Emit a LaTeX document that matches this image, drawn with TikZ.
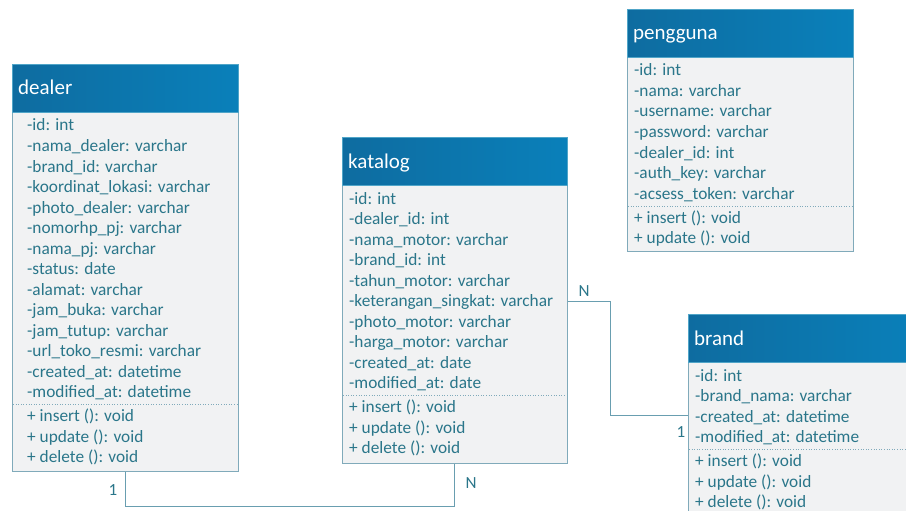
\documentclass[tikz,border=0pt]{standalone}
\usepackage{fontspec}
\setmainfont{Carlito}
\usetikzlibrary{calc}

\definecolor{hdrL}{RGB}{14,108,160}
\definecolor{hdrR}{RGB}{10,128,186}
\definecolor{hdrEdge}{RGB}{80,165,200}
\definecolor{bodyFill}{RGB}{241,242,243}
\definecolor{bodyEdge}{RGB}{128,170,186}
\definecolor{attrText}{RGB}{42,118,138}
\definecolor{linkLine}{RGB}{105,158,176}

\tikzset{
  classhead/.style={draw=hdrEdge, line width=0.8pt, left color=hdrL, right color=hdrR,
    anchor=north west, inner sep=0pt, minimum height=48pt},
  headtext/.style={text=white, font=\fontsize{21}{25}\selectfont, anchor=base west, inner sep=0pt},
  classbody/.style={draw=bodyEdge, fill=bodyFill, line width=0.8pt, anchor=north west, inner sep=0pt},
  rowtext/.style={text=attrText, font=\fontsize{17.3}{20}\selectfont, anchor=base west, inner sep=0pt},
  sepline/.style={draw=bodyEdge, dotted, line width=0.6pt},
  link/.style={draw=linkLine, line width=1pt},
  mult/.style={text=attrText, font=\fontsize{17}{20}\selectfont, inner sep=0pt},
}

% #1 name, #2 left x, #3 top y, #4 width, #5 title, #6 text indent,
% #7 attributes, #8 operations, #9 bottom y
\newcommand\umlclass[9]{%
  \pgfmathsetmacro\bodyh{#9-(#3+48)}%
  \node[classbody, minimum width=#4pt, minimum height=\bodyh pt] (#1-body) at ({#2},{#3+48}) {};
  \node[classhead, minimum width=#4pt] (#1) at ({#2},{#3}) {};
  \node[headtext] (#1-title) at ({#2+6},{#3+31}) {#5};
  \foreach \t [count=\i] in {#7} {
    \node[rowtext] (#1-a\i) at ({#2+#6},{#3+61.5+(\i-1)*20.5+5.5}) {\t};
    \xdef\lastattr{\i}
  }
  \pgfmathsetmacro\sepy{#3+61.5+(\lastattr-1)*20.5+12.5}%
  \draw[sepline] ({#2+1},{\sepy}) -- ({#2+#4-1},{\sepy});
  \foreach \t [count=\j] in {#8} {
    \node[rowtext] (#1-m\j) at ({#2+#6},{\sepy+11.5+(\j-1)*20.5+5.5}) {\t};
  }
}

\begin{document}
\begin{tikzpicture}[x=1pt,y=-1pt]
\useasboundingbox (0,0) rectangle (906,511);
\fill[white] (0,0) rectangle (906,511);

\umlclass{dealer}{12}{64}{226}{dealer}{15}
  {-id: int, -nama\_dealer: varchar, -brand\_id: varchar, -koordinat\_lokasi: varchar,
   -photo\_dealer: varchar, -nomorhp\_pj: varchar, -nama\_pj: varchar, -status: date,
   -alamat: varchar, -jam\_buka: varchar, -jam\_tutup: varchar, -url\_toko\_resmi: varchar,
   -created\_at: datetime, -modified\_at: datetime}
  {+ insert (): void, + update (): void, + delete (): void}{471}

\umlclass{katalog}{342}{137}{225}{katalog}{7}
  {-id: int, -dealer\_id: int, -nama\_motor: varchar, -brand\_id: int, -tahun\_motor: varchar,
   -keterangan\_singkat: varchar, -photo\_motor: varchar, -harga\_motor: varchar,
   -created\_at: date, -modified\_at: date}
  {+ insert (): void, + update (): void, + delete (): void}{463}

\umlclass{pengguna}{627}{9}{226}{pengguna}{7}
  {-id: int, -nama: varchar, -username: varchar, -password: varchar, -dealer\_id: int,
   -auth\_key: varchar, -acsess\_token: varchar}
  {+ insert (): void, + update (): void}{251}

\umlclass{brand}{688}{314}{232}{brand}{7}
  {-id: int, -brand\_nama: varchar, -created\_at: datetime, -modified\_at: datetime}
  {+ insert (): void, + update (): void, + delete (): void}{516}

% dealer 1 -- N katalog
\draw[link] ([xshift=113pt]dealer-body.south west) -- ++(0,35)
  -| ([xshift=112pt]katalog-body.south west);
\node[mult] (m-dealer) at (113,490) {1};
\node[mult] (m-katalog1) at (471,483) {N};

% katalog N -- 1 brand
\draw[link] (katalog-body.east |- katalog-a6) -- ++(43,0)
  |- ([yshift=2pt]brand-body.west |- brand-a3);
\node[mult] (m-katalog2) at (584,291) {N};
\node[mult] (m-brand) at (681,432) {1};
\end{tikzpicture}
\end{document}
